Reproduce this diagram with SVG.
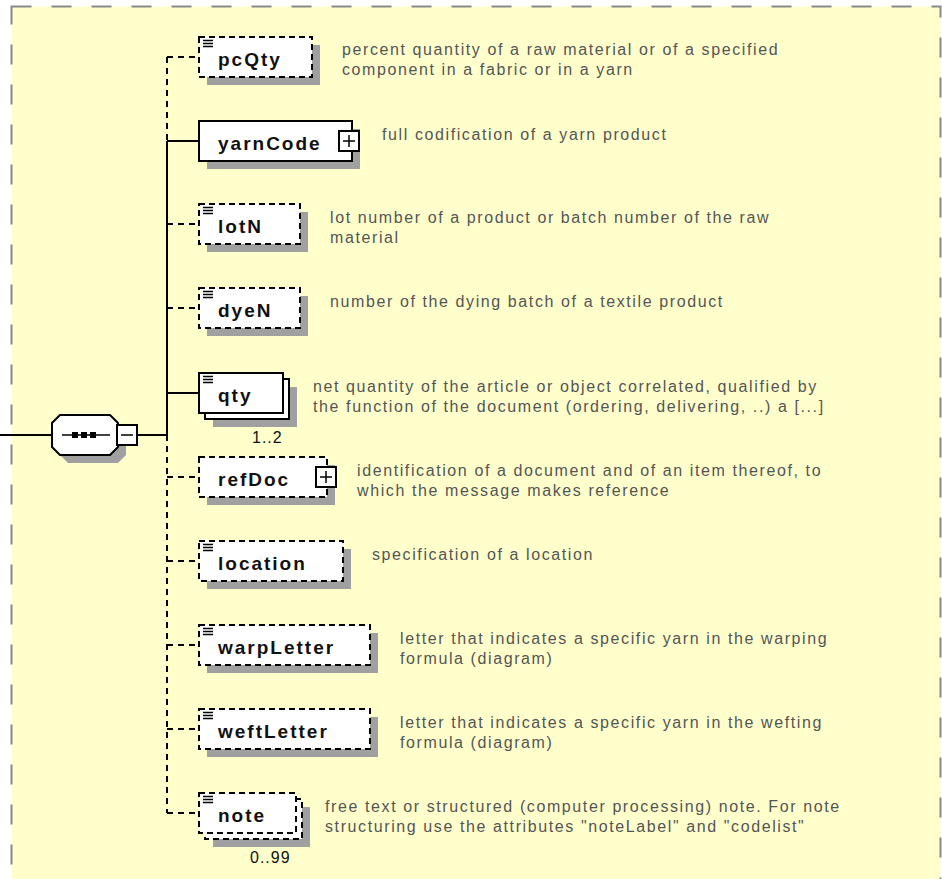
<svg xmlns="http://www.w3.org/2000/svg" width="942" height="879" viewBox="0 0 942 879">
<defs>
<style>
.bg{fill:#FFFFCC;stroke:#888;stroke-width:2;stroke-dasharray:20 20}
.box{fill:#fff;stroke:#000;stroke-width:2}
.opt{stroke-dasharray:6 4}
.sh{fill:#A0A0A0}
.ln{stroke:#000;stroke-width:2;fill:none}
.dl{stroke-dasharray:6 5}
.lbl{font-family:"Liberation Sans",Arial,sans-serif;font-weight:bold;font-size:19px;letter-spacing:2px;fill:#111}
.desc{font-family:"Liberation Sans",Arial,sans-serif;font-size:16px;letter-spacing:1.6px;fill:#555}
.card{font-family:"Liberation Sans",Arial,sans-serif;font-size:16px;letter-spacing:1px;fill:#111}
.ico{stroke:#000;stroke-width:1.5}
</style>
<g id="icon"><path class="ico" d="M203,40.5h10M203,43.5h10M203,46.5h10"/></g>
</defs>
<rect class="bg" x="11.5" y="6.5" width="929" height="900"/>

<g id="connectors">
<path class="ln" d="M0,435H52M137,435H167"/>
<path class="ln" d="M167,141V435"/>
<path class="ln dl" d="M167,57V141M167,435V813"/>
<path class="ln" d="M167,141H199M167,393H199"/>
<path class="ln dl" d="M167,57H199M167,224H199M167,308H199M167,477H199M167,561H199M167,645H199M167,729H199M167,813H199"/>
</g>

<g id="sequence">
<polygon class="sh" points="68,423 118,423 126,431 126,455 118,463 68,463 60,455 60,431"/>
<polygon class="box" points="60,415 110,415 118,423 118,447 110,455 60,455 52,447 52,423"/>
<path d="M62,435H110" stroke="#000" stroke-width="1.5"/>
<rect x="72" y="432" width="6" height="6" fill="#000"/>
<rect x="81" y="432" width="6" height="6" fill="#000"/>
<rect x="90" y="432" width="6" height="6" fill="#000"/>
<rect class="box" x="117" y="425" width="20" height="20" stroke-width="1.5"/>
<path d="M121,435H133" stroke="#000" stroke-width="1.5"/>
</g>

<g id="pcQty">
<rect class="sh" x="207" y="45" width="113" height="40"/>
<rect class="box opt" x="199" y="37" width="113" height="40"/>
<use href="#icon"/>
<text class="lbl" x="218" y="66">pcQty</text>
<text class="desc" x="342" y="55">percent quantity of a raw material or of a specified</text>
<text class="desc" x="342" y="75">component in a fabric or in a yarn</text>
</g>

<g id="yarnCode">
<rect class="sh" x="207" y="129" width="153" height="40"/>
<rect class="box" x="199" y="121" width="153" height="40"/>
<text class="lbl" x="218" y="150">yarnCode</text>
<rect class="box" x="339" y="131" width="20" height="20" stroke-width="1.5"/>
<path d="M343,141H355M349,135V147" stroke="#000" stroke-width="1.5"/>
<text class="desc" x="382" y="140">full codification of a yarn product</text>
</g>

<g id="lotN">
<rect class="sh" x="207" y="212" width="101" height="40"/>
<rect class="box opt" x="199" y="204" width="101" height="40"/>
<use href="#icon" y="167"/>
<text class="lbl" x="218" y="233">lotN</text>
<text class="desc" x="330" y="223">lot number of a product or batch number of the raw</text>
<text class="desc" x="330" y="243">material</text>
</g>

<g id="dyeN">
<rect class="sh" x="207" y="296" width="101" height="40"/>
<rect class="box opt" x="199" y="288" width="101" height="40"/>
<use href="#icon" y="251"/>
<text class="lbl" x="218" y="317">dyeN</text>
<text class="desc" x="330" y="307">number of the dying batch of a textile product</text>
</g>

<g id="qty">
<rect class="sh" x="213" y="387" width="84" height="40"/>
<rect class="box" x="205" y="379" width="84" height="40"/>
<rect class="box" x="199" y="373" width="84" height="40"/>
<use href="#icon" y="336"/>
<text class="lbl" x="218" y="402">qty</text>
<text class="card" x="252" y="443">1..2</text>
<text class="desc" x="313" y="392">net quantity of the article or object correlated, qualified by</text>
<text class="desc" x="313" y="412">the function of the document (ordering, delivering, ..) a [...]</text>
</g>

<g id="refDoc">
<rect class="sh" x="207" y="465" width="128" height="40"/>
<rect class="box opt" x="199" y="457" width="128" height="40"/>
<text class="lbl" x="218" y="486">refDoc</text>
<rect class="box" x="316" y="467" width="20" height="20" stroke-width="1.5"/>
<path d="M320,477H332M326,471V483" stroke="#000" stroke-width="1.5"/>
<text class="desc" x="357" y="476">identification of a document and of an item thereof, to</text>
<text class="desc" x="357" y="496">which the message makes reference</text>
</g>

<g id="location">
<rect class="sh" x="207" y="549" width="144" height="40"/>
<rect class="box opt" x="199" y="541" width="144" height="40"/>
<use href="#icon" y="504"/>
<text class="lbl" x="218" y="570">location</text>
<text class="desc" x="372" y="560">specification of a location</text>
</g>

<g id="warpLetter">
<rect class="sh" x="207" y="633" width="171" height="40"/>
<rect class="box opt" x="199" y="625" width="171" height="40"/>
<use href="#icon" y="588"/>
<text class="lbl" x="218" y="654">warpLetter</text>
<text class="desc" x="400" y="644">letter that indicates a specific yarn in the warping</text>
<text class="desc" x="400" y="664">formula (diagram)</text>
</g>

<g id="weftLetter">
<rect class="sh" x="207" y="717" width="171" height="40"/>
<rect class="box opt" x="199" y="709" width="171" height="40"/>
<use href="#icon" y="672"/>
<text class="lbl" x="218" y="738">weftLetter</text>
<text class="desc" x="400" y="728">letter that indicates a specific yarn in the wefting</text>
<text class="desc" x="400" y="748">formula (diagram)</text>
</g>

<g id="note">
<rect class="sh" x="213" y="807" width="97" height="40"/>
<rect class="box opt" x="205" y="799" width="97" height="40"/>
<rect class="box opt" x="199" y="793" width="97" height="40"/>
<use href="#icon" y="756"/>
<text class="lbl" x="218" y="822">note</text>
<text class="card" x="250" y="863">0..99</text>
<text class="desc" x="325" y="812">free text or structured (computer processing) note. For note</text>
<text class="desc" x="325" y="832">structuring use the attributes "noteLabel" and "codelist"</text>
</g>
</svg>
